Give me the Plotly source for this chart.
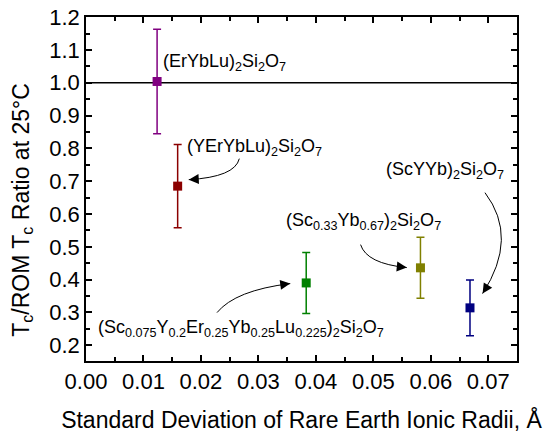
import plotly.graph_objects as go

# ---- data ----
labels = ["(ErYbLu)2Si2O7", "(YErYbLu)2Si2O7", "(Sc0.075Y0.2Er0.25Yb0.25Lu0.225)2Si2O7",
          "(Sc0.33Yb0.67)2Si2O7", "(ScYYb)2Si2O7"]
std_dev = [0.01237, 0.01595, 0.03832, 0.0582, 0.06682]
tc_ratio = [1.004, 0.685, 0.390, 0.436, 0.314]
tc_err = [0.159, 0.127, 0.093, 0.093, 0.085]
colors = ["#800080", "#8B0000", "#008000", "#808000", "#000080"]
reference_ratio = 1.0

x_ticks = [0.00, 0.01, 0.02, 0.03, 0.04, 0.05, 0.06, 0.07]
y_ticks = [0.2, 0.3, 0.4, 0.5, 0.6, 0.7, 0.8, 0.9, 1.0, 1.1, 1.2]

x_title = "Standard Deviation of Rare Earth Ionic Radii, Å"
y_title = "T<sub>c</sub>/ROM T<sub>c</sub> Ratio at 25°C"

# annotation texts (HTML subscripts)
ann_texts = [
    "(ErYbLu)<sub>2</sub>Si<sub>2</sub>O<sub>7</sub>",
    "(YErYbLu)<sub>2</sub>Si<sub>2</sub>O<sub>7</sub>",
    "(Sc<sub>0.075</sub>Y<sub>0.2</sub>Er<sub>0.25</sub>Yb<sub>0.25</sub>Lu<sub>0.225</sub>)<sub>2</sub>Si<sub>2</sub>O<sub>7</sub>",
    "(Sc<sub>0.33</sub>Yb<sub>0.67</sub>)<sub>2</sub>Si<sub>2</sub>O<sub>7</sub>",
    "(ScYYb)<sub>2</sub>Si<sub>2</sub>O<sub>7</sub>",
]
ann_pos = [(0.01300, 1.062), (0.01715, 0.804), (0.00180, 0.251), (0.03445, 0.576), (0.05190, 0.733)]

# curved arrows: start, control, end (data coords), and head tail offset (px)
arrows = [
    ((0.02668, 0.7687), (0.02589, 0.7127), (0.01788, 0.7048), (10, -0.6)),
    ((0.0228, 0.2996), (0.02598, 0.3675), (0.03554, 0.3879), (-10, 1.3)),
    ((0.04778, 0.5067), (0.04882, 0.4489), (0.05582, 0.4367), (-10, -1)),
    ((0.06943, 0.6651), (0.07534, 0.5284), (0.06901, 0.3575), (5.4, -8.4)),
]

FONT = "Liberation Sans, Arial, sans-serif"

fig = go.Figure()
fig.add_hline(y=reference_ratio, line=dict(color="black", width=1.5), layer="below")

for i in range(len(std_dev)):
    fig.add_trace(go.Scatter(
        x=[std_dev[i]], y=[tc_ratio[i]], mode="markers", name=labels[i],
        marker=dict(symbol="square", size=9, color=colors[i]),
        error_y=dict(type="data", array=[tc_err[i]], color=colors[i], thickness=1.5, width=4),
        showlegend=False, cliponaxis=False,
    ))

for (txt, (ax_, ay_)) in zip(ann_texts, ann_pos):
    fig.add_annotation(x=ax_, y=ay_, text=txt, showarrow=False, xanchor="left", yanchor="middle",
                       font=dict(family=FONT, size=18, color="black"))

for (s, c, e, (tx, ty)) in arrows:
    fig.add_shape(type="path", xref="x", yref="y",
                  path=f"M {s[0]},{s[1]} Q {c[0]},{c[1]} {e[0]},{e[1]}",
                  line=dict(color="black", width=1))
    fig.add_annotation(x=e[0], y=e[1], ax=tx, ay=ty, text="", showarrow=True,
                       arrowhead=2, arrowsize=2, arrowwidth=1, arrowcolor="black", standoff=0)

# y-axis title as a rotated annotation (placed slightly below the plot centre, as in the reference)
fig.add_annotation(xref="paper", yref="paper", x=-0.148, y=0.44, text=y_title, textangle=-90,
                   showarrow=False, xanchor="center", yanchor="middle",
                   font=dict(family=FONT, size=23, color="black"))

axis_common = dict(
    showline=True, linecolor="black", linewidth=1.5, mirror="allticks",
    ticks="inside", ticklen=6, tickwidth=1.5, tickcolor="black",
    showgrid=False, zeroline=False,
    tickfont=dict(family=FONT, size=22, color="black"),
)

fig.update_xaxes(range=[0, 0.075], tickvals=x_ticks, ticktext=[f"{v:.2f}" for v in x_ticks],
                 minor=dict(dtick=0.005, tick0=0, ticks="inside", ticklen=4, tickwidth=1.5, tickcolor="black"),
                 title=dict(text=x_title, font=dict(family=FONT, size=23, color="black"), standoff=19),
                 **axis_common)
fig.update_yaxes(range=[0.152, 1.2005], tickvals=y_ticks, ticktext=[f"{v:.1f}" for v in y_ticks],
                 minor=dict(dtick=0.05, tick0=0, ticks="inside", ticklen=4, tickwidth=1.5, tickcolor="black"),
                 **axis_common)

fig.update_layout(
    width=547, height=433,
    margin=dict(l=86, r=30, t=17, b=72, autoexpand=False),
    plot_bgcolor="white", paper_bgcolor="white",
    font=dict(family=FONT, color="black"),
)

# remove the browser's default 8px body margin so the figure sits at the page origin
fig.write_html("out.html", config={"displayModeBar": False},
               post_script="document.body.style.margin='0px';")
